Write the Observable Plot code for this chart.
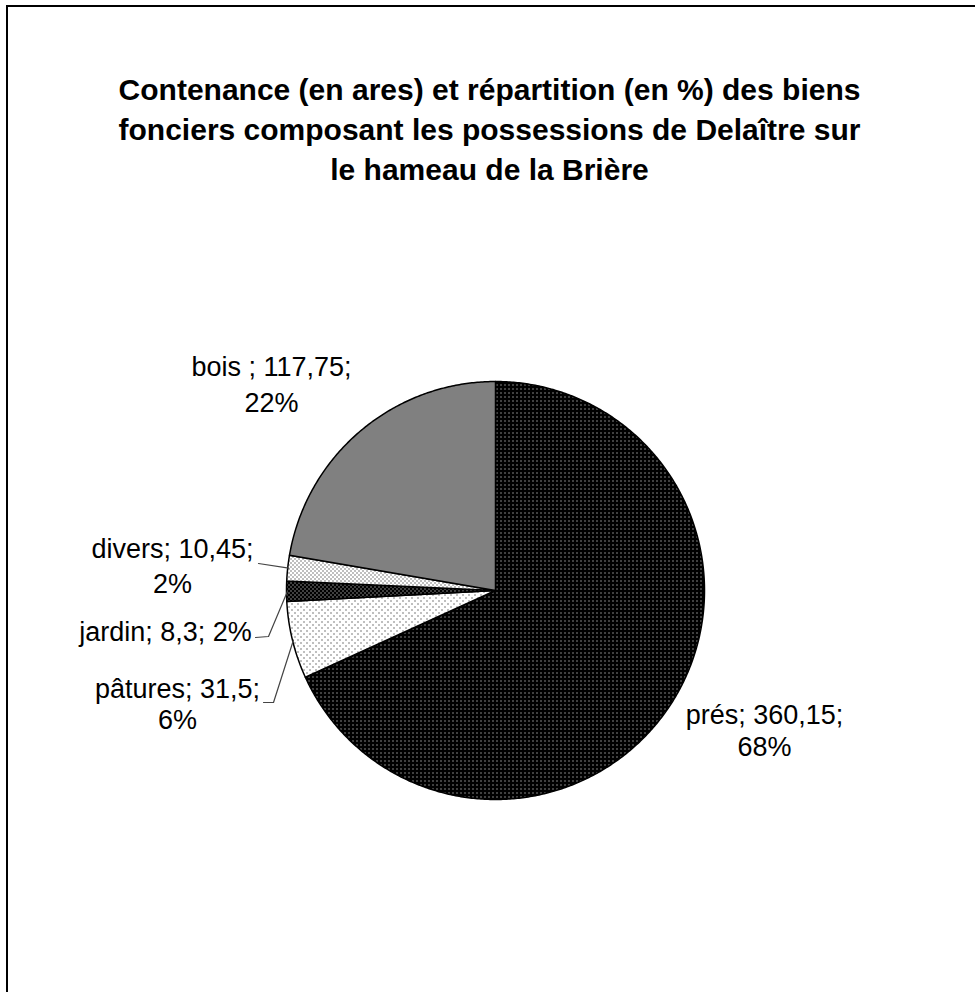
<!DOCTYPE html>
<html>
<head>
<meta charset="utf-8">
<script src="https://cdn.jsdelivr.net/npm/d3@7"></script>
<script src="https://cdn.jsdelivr.net/npm/@observablehq/plot@0.6"></script>
<style>
  html, body { margin: 0; padding: 0; background: #fff; }
  #wrap { position: relative; width: 975px; height: 992px; overflow: hidden; }
  #frame { position: absolute; left: 6px; top: 5px; width: 1100px; height: 1100px;
           border-left: 2px solid #000; border-top: 2px solid #000; pointer-events: none; }
  svg { font-family: "Liberation Sans", Arial, sans-serif; }
</style>
</head>
<body>
<div id="wrap"><div id="chart"></div><div id="frame"></div></div>
<script>
// ---- data ----
const categories = ["prés", "pâtures", "jardin", "divers", "bois"];
const values = [360.15, 31.5, 8.3, 10.45, 117.75];
const labelLines = [
  ["prés; 360,15;", "68%"],
  ["pâtures; 31,5;", "6%"],
  ["jardin; 8,3; 2%"],
  ["divers; 10,45;", "2%"],
  ["bois ; 117,75;", "22%"]
];
const titleLines = [
  "Contenance (en ares) et répartition (en %) des biens",
  "fonciers composant les possessions de Delaître sur",
  "le hameau de la Brière"
];
const patternIds = ["pPres", "pPat", "pJard", "pDiv", "pBois"];

// ---- layout (pixels) ----
const W = 975, H = 992;
const cx = 495, cy = 590, R = 209;
const labelPos = [   // center x, first baseline, line spacing
  [764, 723, 32],
  [177, 697, 31],
  [165, 640, 0],
  [172, 557, 35],
  [271, 375, 36]
];
const titleX = 489, titleY0 = 99, titleDy = 40;

// ---- pie geometry from data ----
const arcs = d3.pie().sort(null).value(d => d)(values);
const pt = (a, r) => [cx + r * Math.sin(a), cy - r * Math.cos(a)];
const slices = arcs.map((a, i) => {
  const pts = [[cx, cy]];
  const n = Math.max(2, Math.ceil((a.endAngle - a.startAngle) / (Math.PI / 360)));
  for (let k = 0; k <= n; k++) {
    const ang = a.startAngle + (a.endAngle - a.startAngle) * k / n;
    pts.push(pt(ang, R));
  }
  pts.push([cx, cy]);
  return pts.map(([x, y]) => ({x, y, i}));
});

// leader lines for the small slices: label end -> elbow -> slice edge at mid angle
const leaderStarts = { 1: [[263, 702], [273, 702]], 2: [[255, 637], [268, 636]], 3: [[258, 563]] };
const leaders = Object.entries(leaderStarts).map(([i, start]) => {
  const a = arcs[+i];
  const mid = (a.startAngle + a.endAngle) / 2;
  return [...start, pt(mid, R - 1)].map(([x, y]) => ({x, y, i: +i}));
});

const labelRows = labelLines.flatMap((lines, i) =>
  lines.map((t, j) => ({t, x: labelPos[i][0], y: labelPos[i][1] + j * labelPos[i][2]})));
const titleRows = titleLines.map((t, j) => ({t, x: titleX, y: titleY0 + j * titleDy}));

const marks = [];
slices.forEach((s, i) => {
  marks.push(Plot.line(s, {x: "x", y: "y", fill: `url(#${patternIds[i]})`, stroke: "#000",
    strokeWidth: 1.5, strokeLinejoin: "round", curve: "linear"}));
});
leaders.forEach(l => marks.push(Plot.line(l, {x: "x", y: "y", stroke: "#444", strokeWidth: 1.2})));
marks.push(Plot.text(labelRows, {x: "x", y: "y", text: "t", fontSize: 27, fill: "#000",
  textAnchor: "middle", lineAnchor: "bottom"}));
marks.push(Plot.text(titleRows, {x: "x", y: "y", text: "t", fontSize: 30, fontWeight: "bold",
  fill: "#000", textAnchor: "middle", lineAnchor: "bottom"}));

const chart = Plot.plot({
  width: W, height: H,
  margin: 0,
  x: {domain: [0, W], range: [0, W], axis: null},
  y: {domain: [0, H], range: [0, H], axis: null},
  style: {fontFamily: "'Liberation Sans', Arial, sans-serif", background: "#fff"},
  marks
});

// fill patterns
const defs = d3.select(chart).insert("defs", ":first-child");
function pat(id, size, bg, fg, dots) {
  const p = defs.append("pattern").attr("id", id).attr("patternUnits", "userSpaceOnUse")
    .attr("width", size).attr("height", size);
  p.append("rect").attr("width", size).attr("height", size).attr("fill", bg);
  dots.forEach(([x, y]) => p.append("rect").attr("x", x).attr("y", y)
    .attr("width", 1).attr("height", 1).attr("fill", fg));
}
pat("pPres", 4, "#000", "#fff", [[0, 0]]);
pat("pPat", 6, "#fff", "#000", [[0, 0], [3, 3]]);
pat("pJard", 4, "#000", "#fff", [[0, 0], [2, 2]]);
pat("pDiv", 4, "#fff", "#000", [[0, 0], [2, 2]]);
pat("pBois", 2, "#fff", "#000", [[0, 0], [1, 1]]);

document.getElementById("chart").appendChild(chart);
</script>
</body>
</html>
